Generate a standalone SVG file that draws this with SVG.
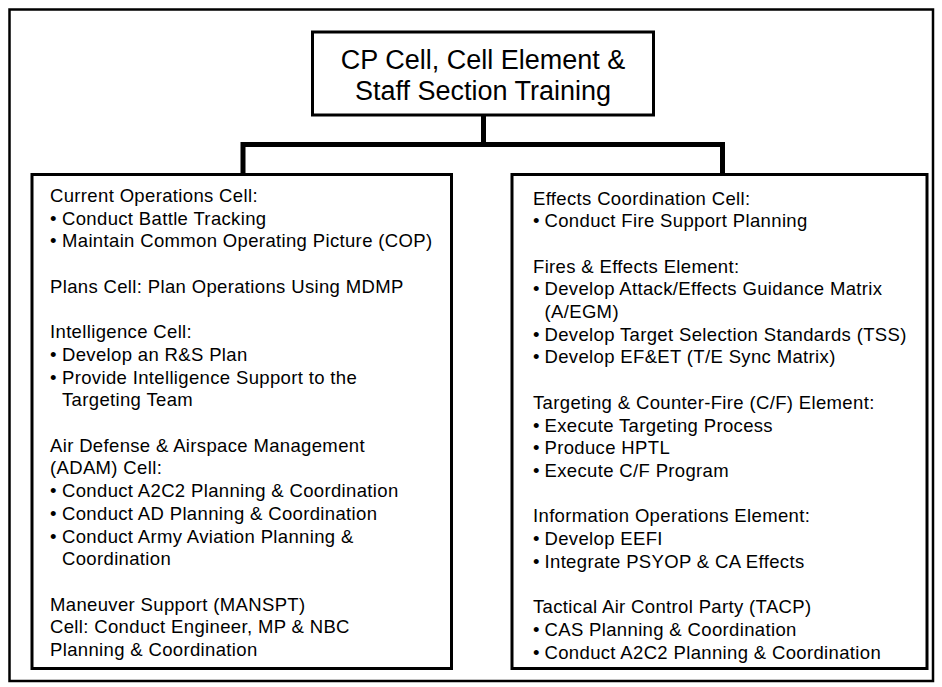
<svg xmlns="http://www.w3.org/2000/svg" width="942" height="687" viewBox="0 0 942 687">
<style>
.frame{fill:none;stroke:#000;stroke-width:2.5}
.box{fill:#fff;stroke:#000;stroke-width:3}
.conn{fill:none;stroke:#000;stroke-width:5;stroke-linejoin:miter;stroke-linecap:butt}
.title{font-family:"Liberation Sans",Arial,sans-serif;font-size:27px;fill:#000;text-anchor:middle}
.body{font-family:"Liberation Sans",Arial,sans-serif;font-size:18.5px;letter-spacing:0.35px;fill:#000}
</style>
<rect class="frame" x="9.5" y="9.5" width="923.5" height="671.5"/>
<g id="connectors">
<path class="conn" d="M483.5 115 V144.5"/>
<path class="conn" d="M243 174 V144.5 H722.5 V174"/>
</g>
<g id="title">
<rect class="box" x="312.5" y="32" width="341" height="83"/>
<text class="title"><tspan x="483" y="69">CP Cell, Cell Element &amp;</tspan><tspan x="483" y="100">Staff Section Training</tspan></text>
</g>
<g id="left">
<rect class="box" x="32" y="174.5" width="419.5" height="494"/>
<text class="body">
<tspan x="50" y="202">Current Operations Cell:</tspan>
<tspan x="50" y="224.7">•</tspan><tspan x="62">Conduct Battle Tracking</tspan>
<tspan x="50" y="247.4">•</tspan><tspan x="62">Maintain Common Operating Picture (COP)</tspan>
<tspan x="50" y="292.8">Plans Cell: Plan Operations Using MDMP</tspan>
<tspan x="50" y="338.2">Intelligence Cell:</tspan>
<tspan x="50" y="360.9">•</tspan><tspan x="62">Develop an R&amp;S Plan</tspan>
<tspan x="50" y="383.6">•</tspan><tspan x="62">Provide Intelligence Support to the</tspan>
<tspan x="62" y="406.3">Targeting Team</tspan>
<tspan x="50" y="451.7">Air Defense &amp; Airspace Management</tspan>
<tspan x="50" y="474.4">(ADAM) Cell:</tspan>
<tspan x="50" y="497.1">•</tspan><tspan x="62">Conduct A2C2 Planning &amp; Coordination</tspan>
<tspan x="50" y="519.8">•</tspan><tspan x="62">Conduct AD Planning &amp; Coordination</tspan>
<tspan x="50" y="542.5">•</tspan><tspan x="62">Conduct Army Aviation Planning &amp;</tspan>
<tspan x="62" y="565.2">Coordination</tspan>
<tspan x="50" y="610.6">Maneuver Support (MANSPT)</tspan>
<tspan x="50" y="633.3">Cell: Conduct Engineer, MP &amp; NBC</tspan>
<tspan x="50" y="656">Planning &amp; Coordination</tspan>
</text>
</g>
<g id="right">
<rect class="box" x="512" y="174.5" width="415" height="494"/>
<text class="body">
<tspan x="533" y="204.5">Effects Coordination Cell:</tspan>
<tspan x="533" y="227.2">•</tspan><tspan x="544.5">Conduct Fire Support Planning</tspan>
<tspan x="533" y="272.6">Fires &amp; Effects Element:</tspan>
<tspan x="533" y="295.3">•</tspan><tspan x="544.5">Develop Attack/Effects Guidance Matrix</tspan>
<tspan x="544.5" y="318">(A/EGM)</tspan>
<tspan x="533" y="340.7">•</tspan><tspan x="544.5">Develop Target Selection Standards (TSS)</tspan>
<tspan x="533" y="363.4">•</tspan><tspan x="544.5">Develop EF&amp;ET (T/E Sync Matrix)</tspan>
<tspan x="533" y="408.8">Targeting &amp; Counter-Fire (C/F) Element:</tspan>
<tspan x="533" y="431.5">•</tspan><tspan x="544.5">Execute Targeting Process</tspan>
<tspan x="533" y="454.2">•</tspan><tspan x="544.5">Produce HPTL</tspan>
<tspan x="533" y="476.9">•</tspan><tspan x="544.5">Execute C/F Program</tspan>
<tspan x="533" y="522.3">Information Operations Element:</tspan>
<tspan x="533" y="545">•</tspan><tspan x="544.5">Develop EEFI</tspan>
<tspan x="533" y="567.7">•</tspan><tspan x="544.5">Integrate PSYOP &amp; CA Effects</tspan>
<tspan x="533" y="613.1">Tactical Air Control Party (TACP)</tspan>
<tspan x="533" y="635.8">•</tspan><tspan x="544.5">CAS Planning &amp; Coordination</tspan>
<tspan x="533" y="658.5">•</tspan><tspan x="544.5">Conduct A2C2 Planning &amp; Coordination</tspan>
</text>
</g>
</svg>
